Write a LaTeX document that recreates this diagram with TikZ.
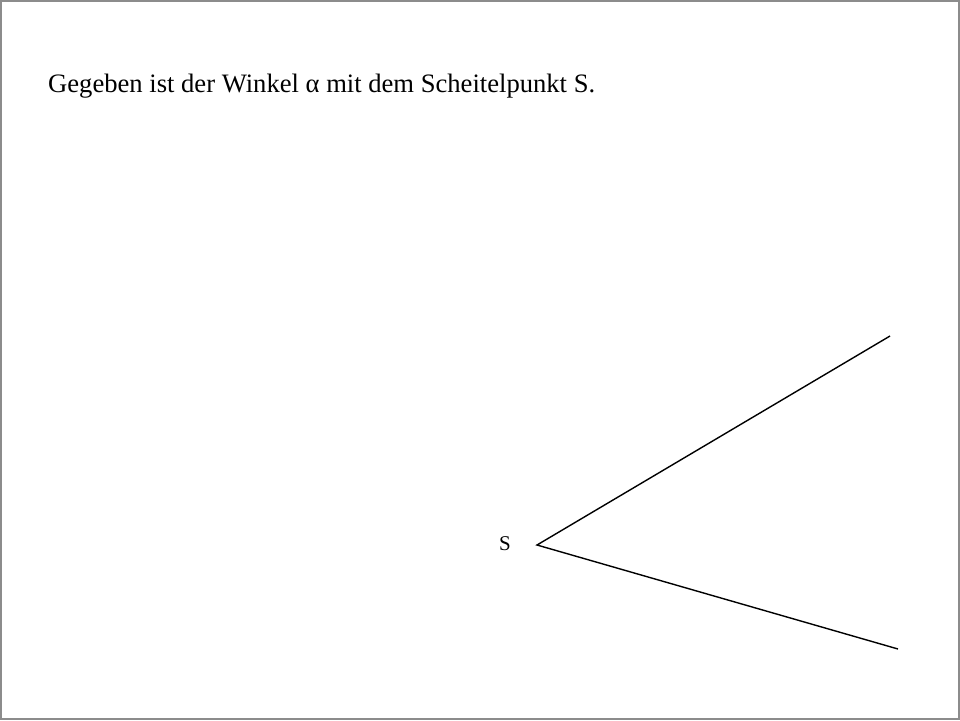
\documentclass[tikz,border=0pt]{standalone}
\usepackage{fontspec}
\setmainfont{Liberation Serif}
\begin{document}
\begin{tikzpicture}[x=1pt,y=-1pt,
  ray/.style={line width=1.4pt,black},
  frame/.style={draw=gray!90,line width=2pt}]
\useasboundingbox (0,0) rectangle (960,720);
\fill[white] (0,0) rectangle (960,720);
\draw[frame] (1,1) rectangle (959,719);
\node[anchor=base west,inner sep=0pt,font=\fontsize{26.6}{32}\selectfont] (title) at (48,92) {Gegeben ist der Winkel α mit dem Scheitelpunkt S.};
\coordinate (S) at (537,545);
\coordinate (A) at (890,336);
\coordinate (B) at (898,649);
\node[anchor=base,inner sep=0pt,font=\fontsize{21}{25}\selectfont] (Slabel) at (505,550) {S};
\draw[ray] (A) -- (S) -- (B);
\end{tikzpicture}
\end{document}
